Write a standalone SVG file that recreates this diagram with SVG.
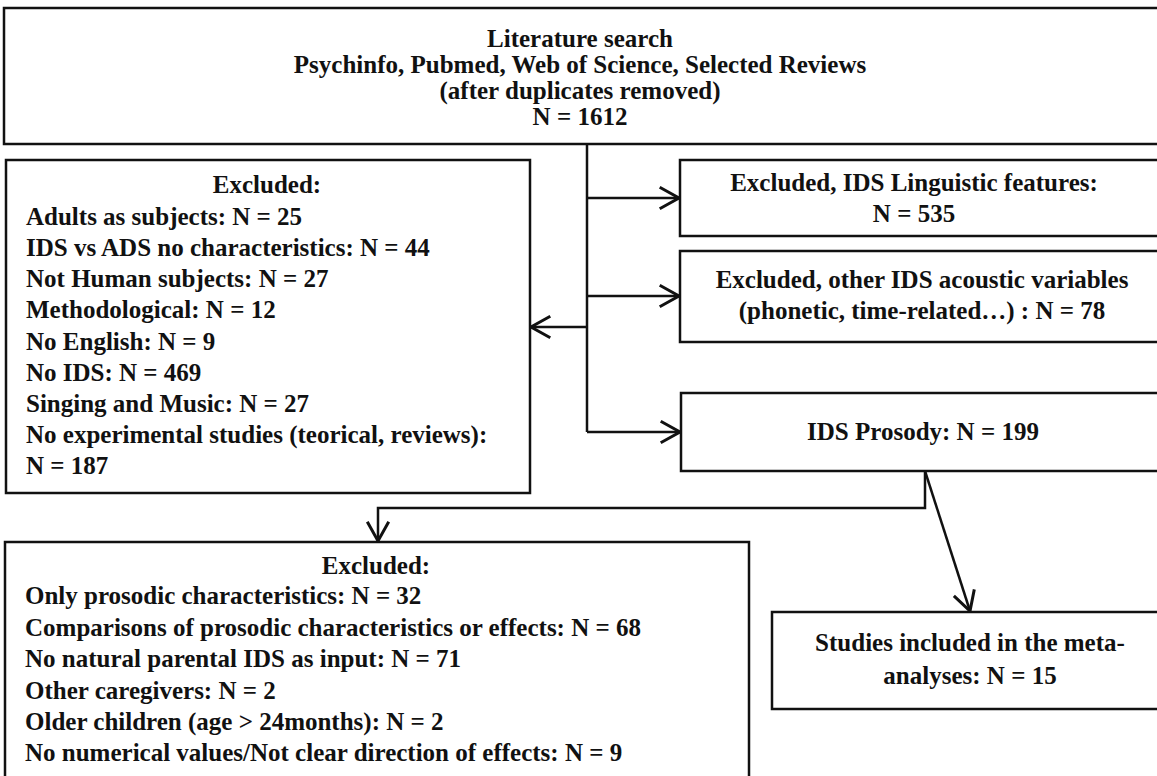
<svg xmlns="http://www.w3.org/2000/svg" width="1157" height="776" viewBox="0 0 1157 776">
<defs>
<style>
.box{fill:#fff;stroke:#111;stroke-width:2.5}
.t{font-family:"Liberation Serif","Times New Roman",serif;font-weight:bold;font-size:25px;fill:#111}
.c{text-anchor:middle}
.ln{fill:none;stroke:#111;stroke-width:2.5}
</style>
<marker id="ah" markerUnits="userSpaceOnUse" markerWidth="30" markerHeight="30" viewBox="-22 -14 26 28" refX="0" refY="0" orient="auto">
<path d="M-18,-10 L0,0 L-18,10" fill="none" stroke="#111" stroke-width="2.8"/>
</marker>
</defs>
<rect width="1157" height="776" fill="#fff"/>

<g id="connectors">
<line class="ln" x1="587" y1="144" x2="587" y2="432"/>
<line class="ln" x1="587" y1="198" x2="679" y2="198" marker-end="url(#ah)"/>
<line class="ln" x1="587" y1="296" x2="679" y2="296" marker-end="url(#ah)"/>
<line class="ln" x1="587" y1="432" x2="680" y2="432" marker-end="url(#ah)"/>
<line class="ln" x1="587" y1="327" x2="531" y2="327" marker-end="url(#ah)"/>
<polyline class="ln" points="925,471 925,508 378,508 378,541" marker-end="url(#ah)"/>
<line class="ln" x1="925" y1="471" x2="970" y2="611" marker-end="url(#ah)"/>
</g>

<g id="search">
<rect class="box" x="4" y="8" width="1170" height="136"/>
<text class="t c" x="580" y="47">Literature search</text>
<text class="t c" x="580" y="73">Psychinfo, Pubmed, Web of Science, Selected Reviews</text>
<text class="t c" x="580" y="99">(after duplicates removed)</text>
<text class="t c" x="580" y="125">N = 1612</text>
</g>

<g id="excluded1">
<rect class="box" x="6" y="160" width="524" height="333"/>
<text class="t c" x="267" y="193">Excluded:</text>
<text class="t" x="26" y="225">Adults as subjects: N = 25</text>
<text class="t" x="26" y="256">IDS vs ADS no characteristics: N = 44</text>
<text class="t" x="26" y="287">Not Human subjects: N = 27</text>
<text class="t" x="26" y="318">Methodological: N = 12</text>
<text class="t" x="26" y="350">No English: N = 9</text>
<text class="t" x="26" y="381">No IDS: N = 469</text>
<text class="t" x="26" y="412">Singing and Music: N = 27</text>
<text class="t" x="26" y="443">No experimental studies (teorical, reviews):</text>
<text class="t" x="26" y="474">N = 187</text>
</g>

<g id="linguistic">
<rect class="box" x="680" y="160" width="500" height="76"/>
<text class="t c" x="914" y="191">Excluded, IDS Linguistic features:</text>
<text class="t c" x="914" y="222">N = 535</text>
</g>

<g id="acoustic">
<rect class="box" x="680" y="251" width="500" height="91"/>
<text class="t c" x="922" y="288">Excluded, other IDS acoustic variables</text>
<text class="t c" x="922" y="319">(phonetic, time-related…) : N = 78</text>
</g>

<g id="prosody">
<rect class="box" x="681" y="393" width="500" height="78"/>
<text class="t c" x="923" y="440">IDS Prosody: N = 199</text>
</g>

<g id="excluded2">
<rect class="box" x="5" y="542" width="744" height="260"/>
<text class="t c" x="376" y="574">Excluded:</text>
<text class="t" x="25" y="604">Only prosodic characteristics: N = 32</text>
<text class="t" x="25" y="636">Comparisons of prosodic characteristics or effects: N = 68</text>
<text class="t" x="25" y="667">No natural parental IDS as input: N = 71</text>
<text class="t" x="25" y="699">Other caregivers: N = 2</text>
<text class="t" x="25" y="730">Older children (age &gt; 24months): N = 2</text>
<text class="t" x="25" y="761">No numerical values/Not clear direction of effects: N = 9</text>
</g>

<g id="included">
<rect class="box" x="772" y="612" width="400" height="97"/>
<text class="t c" x="970" y="651">Studies included in the meta-</text>
<text class="t c" x="970" y="684">analyses:  N = 15</text>
</g>
</svg>
